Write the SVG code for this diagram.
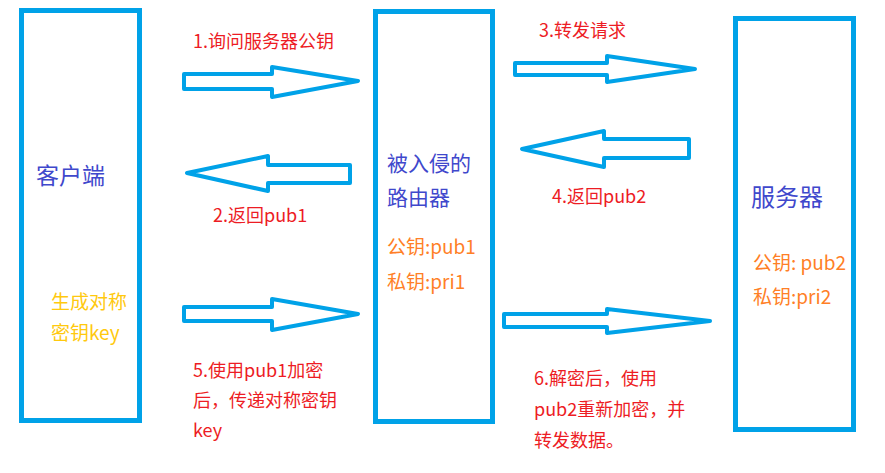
<svg xmlns="http://www.w3.org/2000/svg" width="885" height="473" viewBox="0 0 885 473">
<style>
.box{fill:#fff;stroke:#00A2E8;stroke-width:5}
.arr{fill:#fff;stroke:#00A2E8;stroke-width:4;stroke-linejoin:round}
text{font-family:"Noto Sans CJK SC","Microsoft YaHei",sans-serif}
.name{fill:#3F48CC}
.red{fill:#ED1C24;font-size:18px}
.org{fill:#FF7F27;font-size:19px}
.yel{fill:#FFC90E;font-size:19px}
</style>
<rect width="885" height="473" fill="#fff"/>
<g id="client">
<rect class="box" x="21.5" y="10.5" width="118" height="410"/>
<text class="name" x="36" y="184" font-size="23">客户端</text>
<text class="yel" x="51" y="309">生成对称</text>
<text class="yel" x="51" y="340">密钥key</text>
</g>
<g id="router">
<rect class="box" x="375.5" y="11.5" width="117" height="410"/>
<text class="name" x="387" y="171" font-size="21">被入侵的</text>
<text class="name" x="387" y="205" font-size="21">路由器</text>
<text class="org" x="387" y="254">公钥:pub1</text>
<text class="org" x="387" y="289">私钥:pri1</text>
</g>
<g id="server">
<rect class="box" x="735.5" y="18.5" width="118" height="411"/>
<text class="name" x="751" y="206" font-size="24">服务器</text>
<text class="org" x="753" y="270">公钥: pub2</text>
<text class="org" x="753" y="304">私钥:pri2</text>
</g>
<g id="connectors">
<polygon class="arr" points="184,74 272,74 272,67 358,81 272,97 272,89 184,89"/>
<polygon class="arr" points="187,173 268,156 268,165 350,165 350,183 268,183 268,191"/>
<polygon class="arr" points="184,307 272,307 272,299 358,314 272,330 272,321 184,321"/>
<polygon class="arr" points="515,63 607,63 607,56 695,69 607,82 607,75 515,75"/>
<polygon class="arr" points="522,149 604,131 604,139 689,139 689,158 604,158 604,167"/>
<polygon class="arr" points="504,314 607,314 607,309 710,321 607,333 607,327 504,327"/>
<text class="red" x="193" y="48">1.询问服务器公钥</text>
<text class="red" x="213" y="222">2.返回pub1</text>
<text class="red" x="539" y="37">3.转发请求</text>
<text class="red" x="552" y="203">4.返回pub2</text>
<text class="red" x="193" y="377">5.使用pub1加密</text>
<text class="red" x="193" y="407">后，传递对称密钥</text>
<text class="red" x="193" y="437">key</text>
<text class="red" x="534" y="385">6.解密后，使用</text>
<text class="red" x="534" y="416">pub2重新加密，并</text>
<text class="red" x="534" y="447">转发数据。</text>
</g>
</svg>
